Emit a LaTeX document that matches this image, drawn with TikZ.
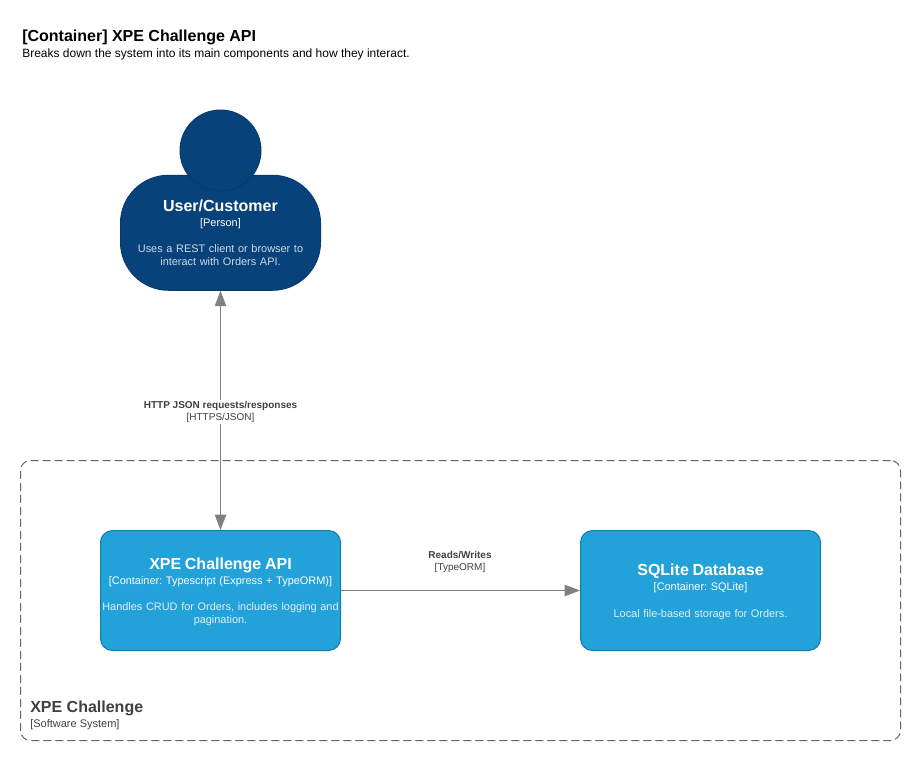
\documentclass[tikz,border=0pt]{standalone}
\usepackage{fontspec}
\setmainfont{Liberation Sans}
\usetikzlibrary{arrows.meta}
\frenchspacing
\definecolor{personfill}{HTML}{08427B}
\definecolor{personline}{HTML}{073B6F}
\definecolor{persondesc}{HTML}{CED9E5}
\definecolor{boxfill}{HTML}{23A2D9}
\definecolor{boxline}{HTML}{0E7DAD}
\definecolor{boxdesc}{HTML}{DDF0F9}
\definecolor{linkgray}{HTML}{808080}
\definecolor{labelgray}{HTML}{404040}
\definecolor{edgegray}{HTML}{666666}
\newcommand{\ttl}[1]{{\fontsize{12}{9.75}\selectfont\bfseries\color{white}#1}}
\newcommand{\tch}[1]{{\fontsize{8.2}{9.75}\selectfont\color{white}#1}}
\tikzset{
  x=0.75pt,y=-0.75pt,
  boxtext/.style={align=center,font=\frenchspacing\fontsize{8.2}{9.75}\selectfont,inner sep=0pt},
  containerbox/.style={boxtext,draw=boxline,fill=boxfill,text=boxdesc,rounded corners=9pt,line width=0.75pt,
    minimum width=180pt,minimum height=90pt,text width=180pt},
  personbody/.style={boxtext,draw=personline,fill=personfill,text=persondesc,rounded corners=36pt,line width=0.75pt,
    minimum width=150pt,minimum height=86.25pt,text width=150pt},
  personhead/.style={circle,draw=personline,fill=personfill,line width=0.75pt,minimum size=60.75pt,inner sep=0pt},
  boundarybox/.style={draw=edgegray,dash pattern=on 6pt off 3pt,rounded corners=7.5pt,line width=0.75pt,
    minimum width=660pt,minimum height=210pt,inner sep=0pt},
  link/.style={draw=linkgray,line width=1pt,-{Triangle[length=11.5pt,width=8.5pt,fill=linkgray]}},
  linklabel/.style={align=center,fill=white,text=labelgray,inner sep=1pt,font=\fontsize{7.5}{9}\selectfont},
  heading/.style={anchor=base west,inner sep=0pt,text=black},
  boundarytext/.style={anchor=base west,inner sep=0pt,text=labelgray},
}
\begin{document}
\begin{tikzpicture}
\useasboundingbox[fill=white] (0,0) rectangle (921,761);
\node[heading,font=\fontsize{12}{14}\selectfont\bfseries] (title) at (22,41) {[Container] XPE Challenge API};
\node[heading,font=\fontsize{9}{11}\selectfont] (subtitle) at (22,57) {Breaks down the system into its main components and how they interact.};
\node[boundarybox] (boundary) at (460.5,600.5) {};
\node[boundarytext,font=\fontsize{12}{14}\selectfont\bfseries] (boundaryname) at (30,712) {XPE Challenge};
\node[boundarytext,font=\fontsize{8.25}{10}\selectfont] (boundarykind) at (30,727) {[Software System]};
\node[personbody] (person) at (220.5,232.75) {\ttl{User/Customer}\\[1.5pt] \tch{[Person]}\\[9.75pt] Uses a REST client or browser to\\ interact with Orders API.};
\node[personhead] (head) at (220.5,150.5) {};
\node[containerbox] (api) at (220.5,590.5) {\rule{0pt}{10.2pt}\ttl{XPE Challenge API}\\[1.5pt] \tch{[Container: Typescript (Express + TypeORM)]}\\[9.75pt] Handles CRUD for Orders, includes logging and\\ pagination.};
\node[containerbox] (db) at (700.5,590.5) {\rule{0pt}{10.9pt}\ttl{SQLite Database}\\[1.5pt] \tch{[Container: SQLite]}\\[10.5pt] Local file-based storage for Orders.};
\draw[link,{Triangle[length=11.5pt,width=8.5pt,fill=linkgray]}-{Triangle[length=11.5pt,width=8.5pt,fill=linkgray]}] (person.south) -- node[linklabel,pos=0.507] (httplabel) {\textbf{HTTP JSON requests/responses}\\{}[HTTPS/JSON]} (api.north);
\draw[link] (api.east) -- (db.west);
\node[linklabel,fill=none] (dblabel) at (460,562.2) {\textbf{Reads/Writes}\\{}[TypeORM]};
\end{tikzpicture}
\end{document}
